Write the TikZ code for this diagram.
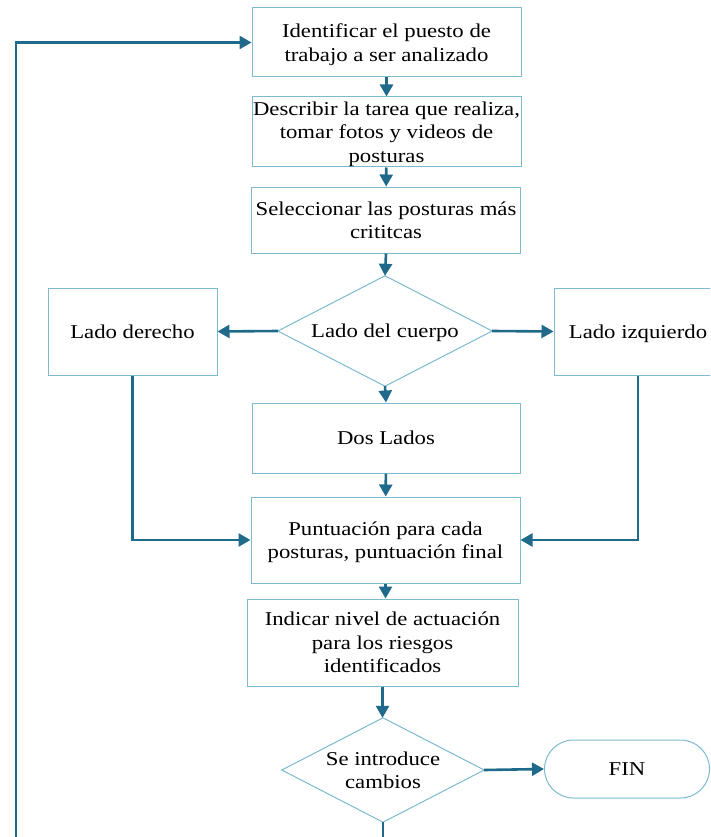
\documentclass[tikz,border=0pt]{standalone}
\usepackage{fontspec}
\setmainfont{Liberation Serif}[FakeStretch=1.16]
\usetikzlibrary{arrows.meta}
\definecolor{arr}{HTML}{1F6A8A}
\definecolor{brd}{HTML}{7DBAD0}
\begin{document}
\begin{tikzpicture}[x=1pt,y=-1pt,
  every node/.style={font=\fontsize{19.6}{23.5}\selectfont, align=center, inner sep=0pt, text depth=0pt},
  box/.style={draw=brd, line width=1pt, rectangle},
  dia/.style={rectangle},
  diaedge/.style={draw=brd, line width=1pt},
  conn/.style={draw=arr, line width=2.6pt, -{Triangle[length=12pt,width=13pt]}}]
\clip (0,0) rectangle (710,837);
\fill[white] (0,0) rectangle (710,837);
\node[box, minimum width=269pt, minimum height=69pt] (b1) at (386.5,42.5) {Identificar el puesto de\\trabajo a ser analizado};
\node[box, minimum width=269pt, minimum height=70pt] (b2) at (386.5,132) {Describir la tarea que realiza,\\tomar fotos y videos de\\posturas};
\node[box, minimum width=269pt, minimum height=66pt] (b3) at (386,220) {Seleccionar las posturas más\\crititcas};
\node[dia, minimum width=214pt, minimum height=110pt] (d1) at (385,331) {Lado del cuerpo};
\draw[diaedge] (d1.north) -- (d1.east) -- (d1.south) -- (d1.west) -- cycle;
\node[box, minimum width=169pt, minimum height=87pt] (ld) at (132.5,331.5) {Lado derecho};
\node[box, minimum width=168pt, minimum height=87pt] (li) at (638,331.5) {Lado izquierdo};
\node[box, minimum width=268pt, minimum height=70pt] (dl) at (386,438) {Dos Lados};
\node[box, minimum width=269pt, minimum height=86pt] (pu) at (385.5,540) {Puntuación para cada\\posturas, puntuación final};
\node[box, minimum width=271pt, minimum height=87pt] (in) at (382.5,642.5) {Indicar nivel de actuación\\para los riesgos\\identificados};
\node[dia, minimum width=202pt, minimum height=104pt] (d2) at (383,770) {Se introduce\\cambios};
\draw[diaedge] (d2.north) -- (d2.east) -- (d2.south) -- (d2.west) -- cycle;
\node[box, minimum width=165pt, minimum height=58pt, rounded corners=29pt] (fin) at (627,769) {FIN};
\coordinate (lb) at (16,870);
\draw[conn] (b1) -- (b2);
\draw[conn] (b2) -- (b3);
\draw[conn] (b3.south) -- (d1.north);
\draw[conn] (d1.west) -- (ld.east);
\draw[conn] (d1.east) -- (li.west);
\draw[conn] (d1.south) -- (dl.north);
\draw[conn] (dl) -- (pu);
\draw[conn] (ld.south) |- (pu.west);
\draw[conn] (li.south) |- (pu.east);
\draw[conn] (pu.south) -- (pu.south |- in.north);
\draw[conn] (in.south) -- (in.south |- d2.north);
\draw[conn] (d2.east) -- (fin.west);
\draw[conn] (d2.south) |- (lb) |- (b1.west);
\end{tikzpicture}
\end{document}
